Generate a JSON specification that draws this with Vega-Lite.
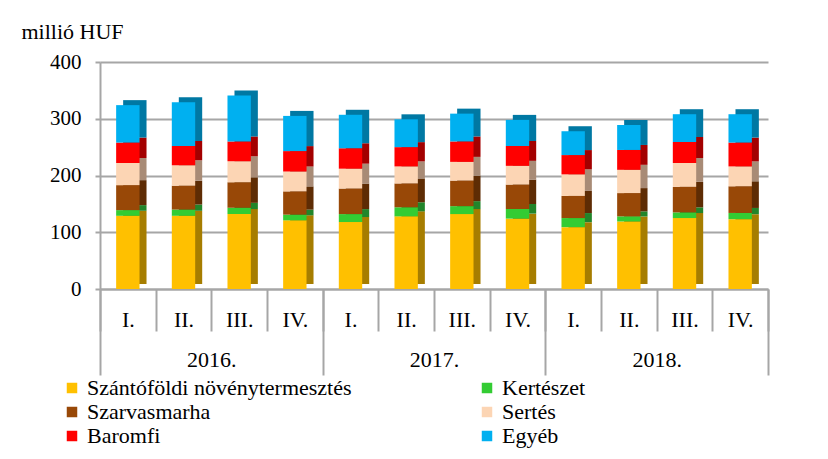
{
  "$schema": "https://vega.github.io/schema/vega-lite/v6.json",
  "width": 668,
  "height": 227,
  "autosize": "none",
  "padding": {"left": 100, "top": 62, "right": 60, "bottom": 170},
  "config": {"font": "Liberation Serif", "view": {"stroke": null},
             "axis": {"labelFont": "Liberation Serif", "titleFont": "Liberation Serif"},
             "legend": {"labelFont": "Liberation Serif"}},
  "data": {
    "values": [
      {"p": "2016-I.", "year": "2016.", "Szántóföldi növénytermesztés": 129, "Kertészet": 10, "Szarvasmarha": 44, "Sertés": 39, "Baromfi": 36, "Egyéb": 66},
      {"p": "2016-II.", "year": "2016.", "Szántóföldi növénytermesztés": 129, "Kertészet": 11, "Szarvasmarha": 42, "Sertés": 36, "Baromfi": 34, "Egyéb": 77},
      {"p": "2016-III.", "year": "2016.", "Szántóföldi növénytermesztés": 132, "Kertészet": 11, "Szarvasmarha": 45, "Sertés": 37, "Baromfi": 35, "Egyéb": 81},
      {"p": "2016-IV.", "year": "2016.", "Szántóföldi növénytermesztés": 121, "Kertészet": 10, "Szarvasmarha": 41, "Sertés": 35, "Baromfi": 36, "Egyéb": 62},
      {"p": "2017-I.", "year": "2017.", "Szántóföldi növénytermesztés": 118, "Kertészet": 14, "Szarvasmarha": 45, "Sertés": 35, "Baromfi": 36, "Egyéb": 59},
      {"p": "2017-II.", "year": "2017.", "Szántóföldi növénytermesztés": 128, "Kertészet": 16, "Szarvasmarha": 42, "Sertés": 30, "Baromfi": 34, "Egyéb": 49},
      {"p": "2017-III.", "year": "2017.", "Szántóföldi növénytermesztés": 132, "Kertészet": 14, "Szarvasmarha": 45, "Sertés": 33, "Baromfi": 36, "Egyéb": 49},
      {"p": "2017-IV.", "year": "2017.", "Szántóföldi növénytermesztés": 124, "Kertészet": 17, "Szarvasmarha": 43, "Sertés": 33, "Baromfi": 35, "Egyéb": 46},
      {"p": "2018-I.", "year": "2018.", "Szántóföldi növénytermesztés": 109, "Kertészet": 16, "Szarvasmarha": 39, "Sertés": 38, "Baromfi": 34, "Egyéb": 42},
      {"p": "2018-II.", "year": "2018.", "Szántóföldi növénytermesztés": 119, "Kertészet": 9, "Szarvasmarha": 41, "Sertés": 41, "Baromfi": 35, "Egyéb": 44},
      {"p": "2018-III.", "year": "2018.", "Szántóföldi növénytermesztés": 125, "Kertészet": 10, "Szarvasmarha": 45, "Sertés": 42, "Baromfi": 37, "Egyéb": 49},
      {"p": "2018-IV.", "year": "2018.", "Szántóföldi növénytermesztés": 123, "Kertészet": 11, "Szarvasmarha": 47, "Sertés": 35, "Baromfi": 42, "Egyéb": 50}
    ]
  },
  "transform": [
    {"fold": ["Szántóföldi növénytermesztés", "Kertészet", "Szarvasmarha", "Sertés", "Baromfi", "Egyéb"], "as": ["c", "v"]},
    {"calculate": "indexof(['Szántóföldi növénytermesztés', 'Kertészet', 'Szarvasmarha', 'Sertés', 'Baromfi', 'Egyéb'], datum.c)", "as": "o"}
  ],
  "layer": [
    {
      "layer": [
        {
          "mark": {"type": "bar", "xOffset": 7, "yOffset": -5, "width": {"band": 0.42}},
          "encoding": {
            "x": {
              "field": "p", "type": "nominal", "sort": null,
              "scale": {"paddingInner": 0, "paddingOuter": 0},
              "axis": {
                "title": null, "orient": "bottom",
                "labelExpr": "split(datum.value, '-')[1]",
                "labelFontSize": 22, "labelColor": "black", "labelAngle": 0,
                "labelBaseline": "middle", "labelPadding": -12,
                "tickBand": "extent", "tickSize": 42, "tickColor": "#a6a6a6", "tickWidth": 2,
                "domainColor": "#a6a6a6", "domainWidth": 2
              }
            },
            "y": {
              "field": "v", "type": "quantitative", "stack": "zero",
              "scale": {"domain": [0, 400]},
              "axis": {
                "title": "millió HUF", "titleAngle": 0, "titleX": -79, "titleY": -31,
                "titleAlign": "left", "titleBaseline": "middle", "titleFontSize": 22,
                "titleFontWeight": "normal", "titleColor": "black",
                "values": [0, 100, 200, 300, 400],
                "labelFontSize": 21, "labelColor": "black", "labelPadding": 14,
                "tickSize": 5, "tickColor": "#a6a6a6", "tickWidth": 2,
                "domainColor": "#a6a6a6", "domainWidth": 2,
                "gridColor": "#a6a6a6", "gridWidth": 2
              }
            },
            "color": {
              "field": "c", "type": "nominal",
              "scale": {"domain": ["Szántóföldi növénytermesztés", "Kertészet", "Szarvasmarha", "Sertés", "Baromfi", "Egyéb"],
                        "range": ["#A67D00", "#21852A", "#5E2C04", "#A88B76", "#A30000", "#0078A3"]},
              "legend": null
            },
            "order": {"field": "o", "type": "quantitative"}
          }
        },
        {
          "mark": {"type": "bar", "width": {"band": 0.42}},
          "encoding": {
            "x": {
              "field": "p", "type": "nominal", "sort": null,
              "scale": {"paddingInner": 0, "paddingOuter": 0},
              "axis": {
                "title": null, "orient": "bottom",
                "labelExpr": "split(datum.value, '-')[1]",
                "labelFontSize": 22, "labelColor": "black", "labelAngle": 0,
                "labelBaseline": "middle", "labelPadding": -12,
                "tickBand": "extent", "tickSize": 42, "tickColor": "#a6a6a6", "tickWidth": 2,
                "domainColor": "#a6a6a6", "domainWidth": 2
              }
            },
            "y": {
              "field": "v", "type": "quantitative", "stack": "zero",
              "scale": {"domain": [0, 400]},
              "axis": {
                "title": "millió HUF", "titleAngle": 0, "titleX": -79, "titleY": -31,
                "titleAlign": "left", "titleBaseline": "middle", "titleFontSize": 22,
                "titleFontWeight": "normal", "titleColor": "black",
                "values": [0, 100, 200, 300, 400],
                "labelFontSize": 21, "labelColor": "black", "labelPadding": 14,
                "tickSize": 5, "tickColor": "#a6a6a6", "tickWidth": 2,
                "domainColor": "#a6a6a6", "domainWidth": 2,
                "gridColor": "#a6a6a6", "gridWidth": 2
              }
            },
            "color": {
              "field": "c", "type": "nominal",
              "scale": {"domain": ["Szántóföldi növénytermesztés", "Kertészet", "Szarvasmarha", "Sertés", "Baromfi", "Egyéb"],
                        "range": ["#FFC000", "#33CC33", "#984807", "#FCD5B4", "#FF0000", "#00B0F0"]},
              "legend": {
                "orient": "none", "legendX": -39, "legendY": 315, "columns": 2, "direction": "horizontal", "title": null,
                "symbolType": "square", "symbolSize": 110, "symbolStrokeWidth": 0,
                "labelFont": "Liberation Serif",
                "labelFontSize": 22, "labelLimit": 400, "labelOffset": 4, "labelColor": "black",
                "columnPadding": 124, "rowPadding": 2
              }
            },
            "order": {"field": "o", "type": "quantitative"}
          }
        }
      ],
      "resolve": {"scale": {"color": "independent"}}
    },
    {
      "mark": {"type": "rule", "strokeOpacity": 0},
      "encoding": {
        "x": {
          "field": "year", "type": "nominal",
          "scale": {"paddingInner": 0, "paddingOuter": 0},
          "axis": {
            "title": null, "orient": "bottom", "offset": 0, "domain": false,
            "tickBand": "extent", "tickSize": 86, "tickColor": "#a6a6a6", "tickWidth": 2,
            "labelFont": "Liberation Serif",
            "labelFontSize": 22, "labelColor": "black", "labelAngle": 0,
            "labelBaseline": "middle", "labelPadding": -16
          }
        }
      }
    }
  ],
  "resolve": {"scale": {"x": "independent"}, "axis": {"x": "independent"}}
}
